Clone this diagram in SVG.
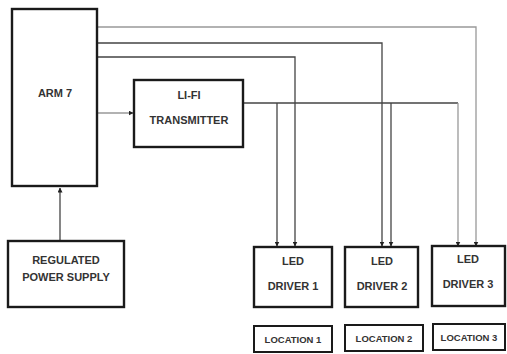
<svg xmlns="http://www.w3.org/2000/svg" width="507" height="354" viewBox="0 0 507 354">
<style>
.box{fill:#fff;stroke:#1a1a1a;stroke-width:2.4}
.sbox{fill:#fff;stroke:#1a1a1a;stroke-width:2}
.t{font-family:"Liberation Sans",Arial,sans-serif;font-weight:bold;font-size:11px;fill:#333;text-anchor:middle}
.s{font-family:"Liberation Sans",Arial,sans-serif;font-weight:bold;font-size:9.5px;fill:#333;text-anchor:middle}
.c{fill:none;stroke:#444;stroke-width:1.3}
.cl{fill:none;stroke:#999;stroke-width:1.3}
</style>
<defs>
<marker id="ah" markerWidth="5" markerHeight="5" refX="4.5" refY="2.5" orient="auto" markerUnits="userSpaceOnUse">
<path d="M0,0 L5,2.5 L0,5 Z" fill="#222"/>
</marker>
</defs>
<rect width="507" height="354" fill="#fff"/>
<g id="connectors">
<path class="cl" d="M97,27 H476 V246" marker-end="url(#ah)"/>
<path class="c" d="M97,43 H382 V246" marker-end="url(#ah)"/>
<path class="c" d="M97,57 H295 V246" marker-end="url(#ah)"/>
<path class="c" d="M243,103 H458"/>
<path class="c" d="M277,103 V246" marker-end="url(#ah)"/>
<path class="c" d="M391,103 V246" marker-end="url(#ah)"/>
<path class="cl" d="M458,103 V246" marker-end="url(#ah)"/>
<path class="cl" d="M97,113 H133" marker-end="url(#ah)"/>
<path class="c" d="M60,241 V188" marker-end="url(#ah)"/>
</g>
<g id="arm7">
<rect class="box" x="12" y="9" width="85" height="177"/>
<text class="t" x="55" y="97">ARM 7</text>
</g>
<g id="lifi">
<rect class="box" x="134" y="80" width="109" height="67"/>
<text class="t" x="189" y="99">LI-FI</text>
<text class="t" x="189" y="124">TRANSMITTER</text>
</g>
<g id="power">
<rect class="box" x="8" y="241" width="116" height="66"/>
<text class="t" x="66" y="264">REGULATED</text>
<text class="t" x="66" y="281">POWER SUPPLY</text>
</g>
<g id="led1">
<rect class="box" x="254" y="247" width="78" height="60"/>
<text class="t" x="293" y="265">LED</text>
<text class="t" x="293" y="290">DRIVER 1</text>
</g>
<g id="led2">
<rect class="box" x="345" y="247" width="73" height="60"/>
<text class="t" x="382" y="265">LED</text>
<text class="t" x="382" y="290">DRIVER 2</text>
</g>
<g id="led3">
<rect class="box" x="432" y="246" width="73" height="60"/>
<text class="t" x="468" y="263">LED</text>
<text class="t" x="468" y="288">DRIVER 3</text>
</g>
<g id="loc1">
<rect class="sbox" x="254" y="326" width="78" height="26"/>
<text class="s" x="293" y="342.5">LOCATION 1</text>
</g>
<g id="loc2">
<rect class="sbox" x="345" y="325" width="78" height="26"/>
<text class="s" x="384" y="341.5">LOCATION 2</text>
</g>
<g id="loc3">
<rect class="sbox" x="433" y="324" width="72" height="26"/>
<text class="s" x="469" y="340.5">LOCATION 3</text>
</g>
</svg>
